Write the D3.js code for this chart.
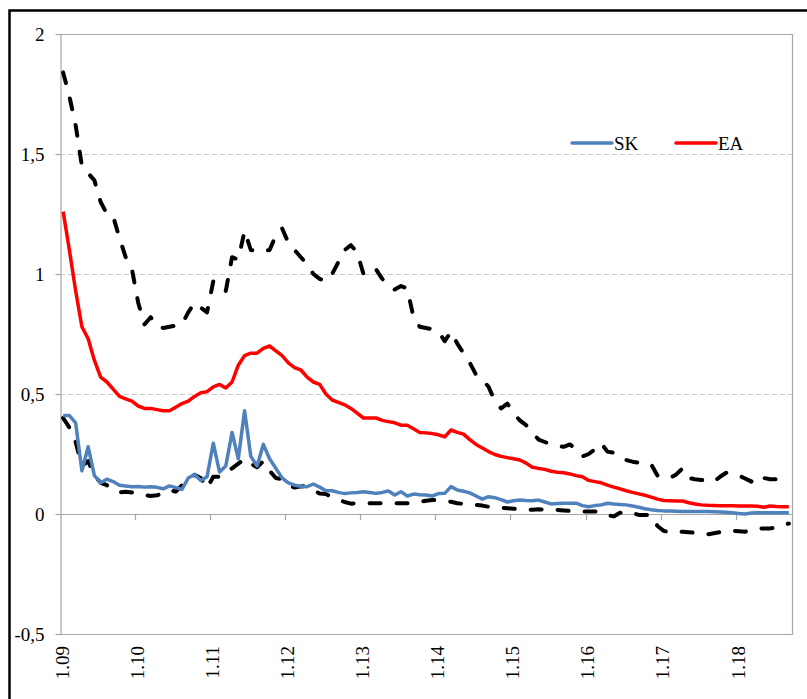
<!DOCTYPE html>
<html>
<head>
<meta charset="utf-8">
<script src="https://cdn.jsdelivr.net/npm/d3@7"></script>
<style>
  body { margin: 0; background: #fff; }
  text { font-family: "Liberation Serif", "Times New Roman", serif; }
</style>
</head>
<body>
<div id="graph"></div>
<script>
// monthly values, 1.2009 - 9.2018
const yearLabels = ["1.09", "1.10", "1.11", "1.12", "1.13", "1.14", "1.15", "1.16", "1.17", "1.18"];
const yTicks = [-0.5, 0, 0.5, 1, 1.5, 2];

const sk = [
	0.41, 0.41, 0.38, 0.18, 0.28, 0.16, 0.13, 0.145, 0.135, 0.12,
	0.117, 0.114, 0.115, 0.112, 0.114, 0.111, 0.105, 0.117, 0.11, 0.103,
	0.15, 0.165, 0.14, 0.155, 0.295, 0.175, 0.2, 0.34, 0.23, 0.43,
	0.24, 0.2, 0.29, 0.23, 0.19, 0.15, 0.13, 0.12, 0.115, 0.114,
	0.125, 0.112, 0.097, 0.097, 0.09, 0.085, 0.088, 0.09, 0.093, 0.09,
	0.086, 0.09, 0.096, 0.079, 0.093, 0.075, 0.083, 0.08, 0.079, 0.075,
	0.085, 0.086, 0.114, 0.1, 0.095, 0.088, 0.075, 0.062, 0.072, 0.068,
	0.06, 0.05, 0.055, 0.058, 0.056, 0.055, 0.058, 0.05, 0.042, 0.044,
	0.045, 0.045, 0.045, 0.035, 0.03, 0.035, 0.038, 0.045, 0.042, 0.04,
	0.038, 0.033, 0.028, 0.022, 0.018, 0.015, 0.013, 0.012, 0.011, 0.01,
	0.01, 0.01, 0.01, 0.01, 0.009, 0.008, 0.007, 0.005, 0.002, 0,
	0.004, 0.005, 0.005, 0.005, 0.005, 0.005, 0.005
];

const ea = [
	1.26, 1.1, 0.93, 0.78, 0.73, 0.64, 0.57, 0.55, 0.52, 0.49,
	0.48, 0.47, 0.45, 0.44, 0.44, 0.435, 0.43, 0.43, 0.445, 0.46,
	0.47, 0.49, 0.505, 0.51, 0.53, 0.54, 0.525, 0.55, 0.62, 0.66,
	0.67, 0.67, 0.69, 0.7, 0.68, 0.66, 0.63, 0.61, 0.6, 0.57,
	0.55, 0.54, 0.5, 0.475, 0.465, 0.455, 0.44, 0.42, 0.4, 0.4,
	0.4, 0.39, 0.385, 0.38, 0.37, 0.37, 0.355, 0.34, 0.338, 0.335,
	0.33, 0.322, 0.35, 0.34, 0.333, 0.31, 0.29, 0.275, 0.26, 0.248,
	0.24, 0.235, 0.23, 0.225, 0.212, 0.195, 0.19, 0.186, 0.178, 0.174,
	0.172, 0.167, 0.16, 0.155, 0.14, 0.135, 0.13, 0.12, 0.112, 0.105,
	0.097, 0.09, 0.084, 0.078, 0.07, 0.062, 0.056, 0.055, 0.054, 0.054,
	0.047, 0.042, 0.038, 0.036, 0.035, 0.034, 0.034, 0.034, 0.033, 0.033,
	0.033, 0.032, 0.028, 0.033, 0.031, 0.03, 0.03
];

const upper = [
	1.84, 1.74, 1.62, 1.45, 1.42, 1.39, 1.3, 1.25, 1.24, 1.15,
	1.07, 1.02, 0.88, 0.79, 0.82, 0.78, 0.775, 0.78, 0.785, 0.79,
	0.84, 0.88, 0.86, 0.84, 0.97, 0.95, 0.93, 1.07, 1.06, 1.18,
	1.1, 1.095, 1.095, 1.1, 1.16, 1.19, 1.13, 1.1, 1.07, 1.04,
	1.0, 0.98, 0.97, 1.0, 1.05, 1.1, 1.12, 1.09, 1.0, 1.0,
	1.02, 0.98, 0.95, 0.935, 0.95, 0.94, 0.82, 0.78, 0.775, 0.77,
	0.76, 0.72, 0.76, 0.71, 0.67, 0.63, 0.58, 0.56, 0.53, 0.47,
	0.44, 0.46, 0.42, 0.39, 0.37, 0.34, 0.31, 0.3, 0.29, 0.285,
	0.28, 0.29, 0.27, 0.24, 0.25, 0.27, 0.295, 0.26, 0.255, 0.245,
	0.225, 0.218, 0.214, 0.212, 0.207, 0.16, 0.15, 0.15, 0.165, 0.19,
	0.15, 0.145, 0.142, 0.14, 0.135, 0.155, 0.172, 0.167, 0.16, 0.148,
	0.135, 0.16, 0.15, 0.145, 0.145, 0.135, 0.13
];

const lower = [
	0.4, 0.36, 0.3, 0.2, 0.22, 0.16, 0.13, 0.12, 0.1, 0.09,
	0.093, 0.09, 0.086, 0.08, 0.075, 0.078, 0.086, 0.1, 0.093, 0.12,
	0.145, 0.163, 0.15, 0.107, 0.155, 0.155, 0.18, 0.19, 0.21, 0.23,
	0.21, 0.195, 0.22, 0.18, 0.15, 0.145, 0.12, 0.11, 0.115, 0.117,
	0.1, 0.085, 0.083, 0.07, 0.06, 0.05, 0.043, 0.045, 0.045, 0.045,
	0.045, 0.045, 0.045, 0.045, 0.045, 0.045, 0.045, 0.05, 0.055, 0.058,
	0.058, 0.054, 0.051, 0.045, 0.042, 0.04, 0.038, 0.035, 0.03, 0.028,
	0.026, 0.024, 0.022, 0.02, 0.017, 0.018, 0.02, 0.018, 0.017, 0.017,
	0.015, 0.013, 0.01, 0.01, 0.01, 0.01, 0.01, -0.004, -0.01, 0.005,
	0.01, 0.005, -0.004, -0.004, -0.004, -0.05, -0.07, -0.078, -0.075, -0.074,
	-0.076, -0.078, -0.082, -0.085, -0.08, -0.075, -0.068, -0.07, -0.072, -0.074,
	-0.066, -0.06, -0.06, -0.06, -0.055, -0.045, -0.04
];

const W = 807, H = 699;
const plot = { left: 60, right: 792, top: 34, bottom: 634 };
const axisColor = "#a6a6a6";
const font = 19;

const svg = d3.select("#graph").append("svg")
	.attr("width", W).attr("height", H)
	.style("display", "block");

svg.append("rect").attr("width", W).attr("height", H).attr("fill", "#fff");

// outer chart frame (runs off the right and bottom of the picture)
svg.append("rect")
	.attr("x", 9.5).attr("y", 10.5)
	.attr("width", 830).attr("height", 730)
	.attr("fill", "none").attr("stroke", "#000").attr("stroke-width", 2.5);

const months = d3.range(sk.length);

// categories sit between tick marks, as in the original
const x = d3.scalePoint().domain(months).range([plot.left, plot.right]).padding(0.5);
const step = x.step();
const y = d3.scaleLinear().domain([-0.5, 2]).range([plot.bottom, plot.top]);

// gridlines
svg.append("g").selectAll("line")
	.data([0.5, 1, 1.5])
	.join("line")
	.attr("x1", plot.left).attr("x2", plot.right)
	.attr("y1", d => y(d) + 0.5).attr("y2", d => y(d) + 0.5)
	.attr("stroke", "#c8c8c8").attr("stroke-width", 1)
	.attr("stroke-dasharray", "5,3");

// plot area border: top, right, bottom
svg.append("path")
	.attr("d", `M${plot.left},${plot.top + 0.5}H${plot.right + 0.5}V${plot.bottom + 0.5}H${plot.left}`)
	.attr("fill", "none").attr("stroke", axisColor).attr("stroke-width", 1.2);

// y axis
const yAxis = svg.append("g")
	.attr("transform", `translate(${plot.left + 0.5},0)`)
	.call(d3.axisLeft(y).tickValues(yTicks).tickSize(5).tickSizeOuter(0).tickPadding(11)
		.tickFormat(d => String(d).replace(".", ",")));
yAxis.selectAll("path, line").attr("stroke", axisColor).attr("stroke-width", 1.2);
yAxis.selectAll("text").attr("font-size", font).attr("fill", "#000")
	.style("font-family", "'Liberation Serif', serif");

// category axis crosses at 0
svg.append("line")
	.attr("x1", plot.left).attr("x2", plot.right)
	.attr("y1", y(0) + 0.5).attr("y2", y(0) + 0.5)
	.attr("stroke", axisColor).attr("stroke-width", 1.2);

const yearStarts = yearLabels.map((d, i) => i * 12);
svg.append("g").selectAll("line")
	.data(yearStarts.slice(1))
	.join("line")
	.attr("x1", d => Math.round(x(d) - step / 2) + 0.5)
	.attr("x2", d => Math.round(x(d) - step / 2) + 0.5)
	.attr("y1", y(0)).attr("y2", y(0) + 6)
	.attr("stroke", axisColor).attr("stroke-width", 1.2);

svg.append("g").selectAll("text")
	.data(yearStarts)
	.join("text")
	.attr("transform", d => `translate(${x(d)},${plot.bottom + 12}) rotate(-90)`)
	.attr("text-anchor", "end")
	.attr("dy", "0.3em")
	.attr("font-size", font)
	.text((d, i) => yearLabels[i]);

// lines
const line = d3.line().x((d, i) => x(i)).y(d => y(d));

const series = [
	{ values: upper, color: "#000", dash: "11,16", width: 4 },
	{ values: lower, color: "#000", dash: "11,16", width: 4 },
	{ values: ea, color: "#ff0000", dash: null, width: 3.5 },
	{ values: sk, color: "#4f81bd", dash: null, width: 3.5 }
];

svg.append("g").selectAll("path")
	.data(series)
	.join("path")
	.attr("d", d => line(d.values))
	.attr("fill", "none")
	.attr("stroke", d => d.color)
	.attr("stroke-width", d => d.width)
	.attr("stroke-linejoin", "round")
	.attr("stroke-linecap", d => d.dash ? "round" : "butt")
	.attr("stroke-dasharray", d => d.dash);

// legend
const legend = [
	{ name: "SK", color: "#4f81bd", x: 572 },
	{ name: "EA", color: "#ff0000", x: 676 }
];
const lg = svg.append("g").selectAll("g")
	.data(legend)
	.join("g")
	.attr("transform", d => `translate(${d.x},143)`);
lg.append("line")
	.attr("x1", 0).attr("x2", 40)
	.attr("stroke", d => d.color).attr("stroke-width", 3.5)
	.attr("stroke-linecap", "round");
lg.append("text")
	.attr("x", 42).attr("y", 6.5)
	.attr("font-size", font)
	.text(d => d.name);
</script>
</body>
</html>
